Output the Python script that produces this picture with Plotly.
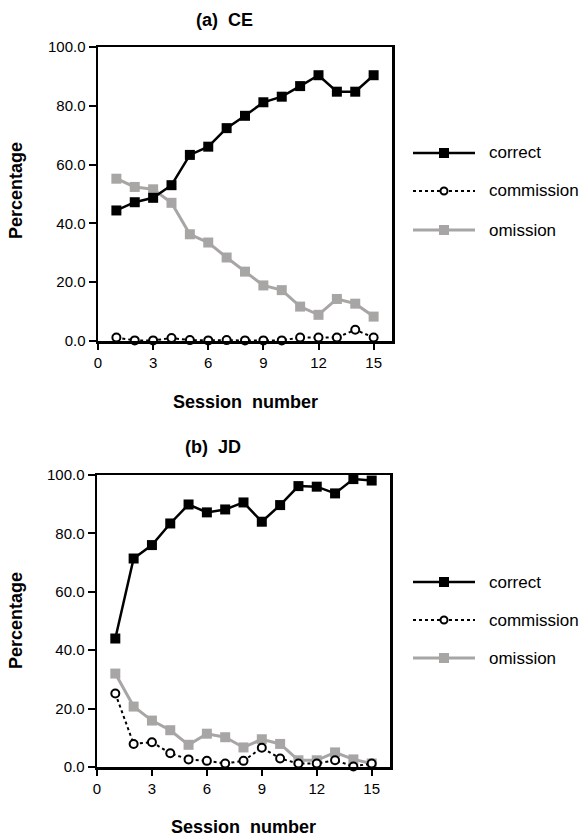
import plotly.graph_objects as go

sessions = list(range(1, 16))

ce_correct = [44.4, 47.2, 48.7, 53.0, 63.3, 66.1, 72.4, 76.6, 81.2, 83.1, 86.7, 90.4, 84.8, 84.8, 90.4]
ce_commission = [1.2, 0.2, 0.2, 1.0, 0.3, 0.2, 0.3, 0.2, 0.2, 0.2, 1.2, 1.2, 1.2, 3.8, 1.2]
ce_omission = [55.2, 52.4, 51.6, 47.0, 36.3, 33.5, 28.4, 23.6, 18.9, 17.3, 11.7, 8.9, 14.3, 12.7, 8.3]

jd_correct = [44.0, 71.4, 76.0, 83.4, 89.9, 87.2, 88.2, 90.6, 84.0, 89.7, 96.2, 96.0, 93.7, 98.6, 98.1]
jd_commission = [25.2, 7.9, 8.5, 4.7, 2.6, 2.1, 1.2, 2.1, 6.6, 2.9, 1.2, 1.2, 2.3, 0.2, 1.2]
jd_omission = [32.0, 20.7, 15.9, 12.6, 7.6, 11.4, 10.2, 6.7, 9.5, 7.9, 2.3, 2.3, 5.0, 2.6, 1.2]

y_ticks = [0, 20, 40, 60, 80, 100]
y_ticktext = ["0.0", "20.0", "40.0", "60.0", "80.0", "100.0"]
x_ticks = [0, 3, 6, 9, 12, 15]

W, H = 585, 839
BLACK = "#000000"
GRAY = "#a8a5a5"
FONT = "Liberation Sans, Arial, Helvetica, sans-serif"


def px(x):
    return x / W


def py(y):
    return 1 - y / H


fig = go.Figure()

panels = [
    ("x", "y", ce_correct, ce_commission, ce_omission),
    ("x2", "y2", jd_correct, jd_commission, jd_omission),
]

for xa, ya, cor, com, om in panels:
    fig.add_trace(go.Scatter(
        x=sessions, y=om, xaxis=xa, yaxis=ya, mode="lines+markers",
        line=dict(color=GRAY, width=3),
        marker=dict(symbol="square", size=10, color=GRAY),
        cliponaxis=False, showlegend=False))
    fig.add_trace(go.Scatter(
        x=sessions, y=com, xaxis=xa, yaxis=ya, mode="lines+markers",
        line=dict(color=BLACK, width=2, dash="dot"),
        marker=dict(symbol="circle", size=8, color="white",
                    line=dict(color=BLACK, width=2)),
        cliponaxis=False, showlegend=False))
    fig.add_trace(go.Scatter(
        x=sessions, y=cor, xaxis=xa, yaxis=ya, mode="lines+markers",
        line=dict(color=BLACK, width=2.5),
        marker=dict(symbol="square", size=10, color=BLACK),
        cliponaxis=False, showlegend=False))

xcommon = dict(range=[0, 16], tickvals=x_ticks, ticks="outside", ticklen=6,
               tickwidth=2, tickcolor=BLACK, showline=True, linewidth=2.5,
               linecolor=BLACK, mirror=True, showgrid=False, zeroline=False,
               automargin=False,
               tickfont=dict(family=FONT, size=15, color=BLACK))
ycommon = dict(range=[0, 100], tickvals=y_ticks, ticktext=y_ticktext,
               ticks="outside", ticklen=7, tickwidth=2, tickcolor=BLACK,
               showline=True, linewidth=2.5, linecolor=BLACK, mirror=True,
               showgrid=False, zeroline=False, automargin=False,
               tickfont=dict(family=FONT, size=15, color=BLACK))

fig.update_layout(
    width=W, height=H,
    margin=dict(l=0, r=0, t=0, b=0, pad=0, autoexpand=False),
    paper_bgcolor="white", plot_bgcolor="white",
    showlegend=False,
    xaxis=dict(domain=[px(98), px(392)], anchor="y", **xcommon),
    yaxis=dict(domain=[py(341), py(47)], anchor="x", **ycommon),
    xaxis2=dict(domain=[px(97), px(390)], anchor="y2", **xcommon),
    yaxis2=dict(domain=[py(767), py(475)], anchor="x2", **ycommon),
)

annotations = []
shapes = []


def text(x, y, s, size=18, bold=True, angle=0, xanchor="center"):
    annotations.append(dict(
        x=px(x), y=py(y), xref="paper", yref="paper", text=s, showarrow=False,
        textangle=angle, xanchor=xanchor, yanchor="middle",
        font=dict(family=FONT, size=size, color=BLACK,
                  weight="bold" if bold else "normal")))


text(224, 20, "(a)\u00a0 CE")
text(213, 447, "(b)\u00a0 JD")
text(245, 402, "Session\u00a0 number")
text(243, 827, "Session\u00a0 number")
text(16, 191, "Percentage", angle=-90)
text(16, 621, "Percentage", angle=-90)

legend_labels = ["correct", "commission", "omission"]
legend_rows = [[153, 191, 230], [582, 620, 658]]
for rows in legend_rows:
    for label, yy in zip(legend_labels, rows):
        if label == "correct":
            shapes.append(dict(type="line", xref="paper", yref="paper",
                               x0=px(413), x1=px(475), y0=py(yy), y1=py(yy),
                               line=dict(color=BLACK, width=2.5)))
            shapes.append(dict(type="rect", xref="paper", yref="paper",
                               x0=px(439), x1=px(449), y0=py(yy + 5), y1=py(yy - 5),
                               fillcolor=BLACK, line=dict(width=0)))
        elif label == "commission":
            shapes.append(dict(type="line", xref="paper", yref="paper",
                               x0=px(413), x1=px(475), y0=py(yy), y1=py(yy),
                               line=dict(color=BLACK, width=2, dash="dot")))
            shapes.append(dict(type="circle", xref="paper", yref="paper",
                               x0=px(440.5), x1=px(447.5), y0=py(yy + 3.5), y1=py(yy - 3.5),
                               fillcolor="white", line=dict(color=BLACK, width=2)))
        else:
            shapes.append(dict(type="line", xref="paper", yref="paper",
                               x0=px(413), x1=px(475), y0=py(yy), y1=py(yy),
                               line=dict(color=GRAY, width=3)))
            shapes.append(dict(type="rect", xref="paper", yref="paper",
                               x0=px(439), x1=px(449), y0=py(yy + 5), y1=py(yy - 5),
                               fillcolor=GRAY, line=dict(width=0)))
        text(487, yy, label, size=17, bold=False, xanchor="left")

fig.update_layout(annotations=annotations, shapes=shapes)

fig.write_html(
    "out.html",
    config={"displayModeBar": False, "staticPlot": True},
    post_script="document.body.style.margin='0';document.body.style.padding='0';"
                "document.body.style.overflow='hidden';",
)
